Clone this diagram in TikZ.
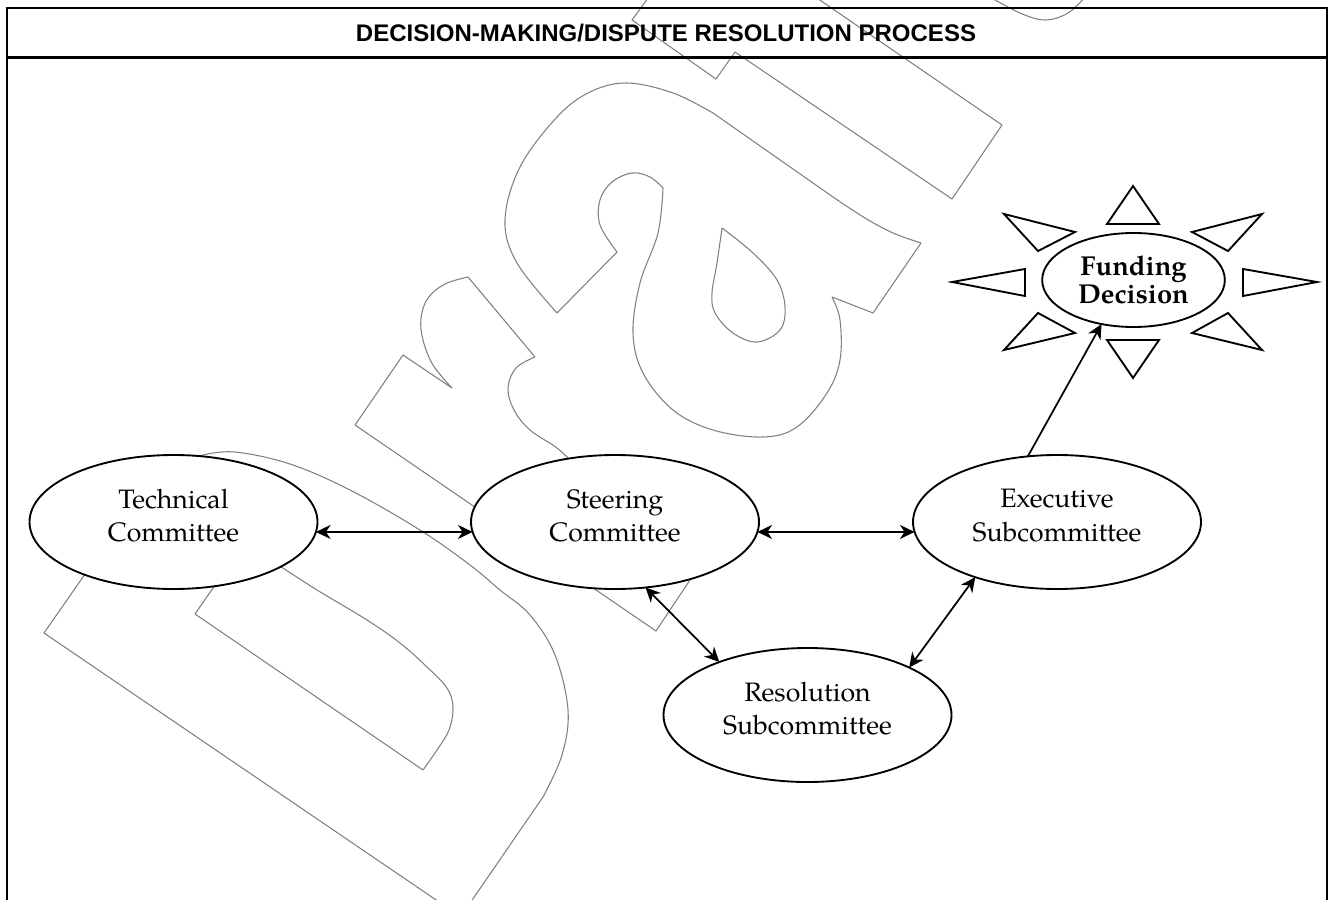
\documentclass[tikz,border=0pt]{standalone}
\usepackage{fontspec}
\usetikzlibrary{shapes.geometric,arrows.meta}
\newfontfamily\palfont{texgyrepagella}[Extension=.otf,UprightFont=*-regular,BoldFont=*-bold]
\newfontfamily\titlefont{Liberation Sans}
\begin{document}
\begin{tikzpicture}[x=0.75pt,y=-0.75pt,
  wm/.style={draw=black!50,line width=0.8pt,line join=round},
  ell/.style={ellipse,draw,fill=white,line width=1.4pt,inner sep=0pt,outer sep=0pt,align=center,
    font=\palfont\fontsize{20}{25}\selectfont,minimum width=216pt,minimum height=100.5pt,
    execute at end node={\rule[-10pt]{0pt}{10pt}}},
  fundell/.style={ellipse,draw,fill=white,line width=1.4pt,inner sep=0pt,outer sep=0pt,align=center,
    font=\palfont\bfseries\fontsize{20.5}{21}\selectfont,minimum width=137pt,minimum height=70.5pt},
  tri/.style={draw,line width=1.4pt,line join=miter},
  dbl/.style={line width=1.3pt,{Stealth[length=11pt,width=10.5pt,inset=3.5pt]}-{Stealth[length=11pt,width=10.5pt,inset=3.5pt]}},
  sgl/.style={line width=1.3pt,-{Stealth[length=11pt,width=10.5pt,inset=3.5pt]}},
  frame/.style={line width=2.2pt,line join=miter}]
\useasboundingbox (0,0) rectangle (1334,899);
% ---- watermark "Draft"
\begin{scope}
\clip (0,0) rectangle (1334,899);
% D outer
\draw[wm] (83,577) -- (44,633) -- (445,906);
\draw[wm] (83,577) -- (140,500) -- (203,455);
\draw[wm] plot[smooth,tension=0.6] coordinates {(203,455) (235,452) (290,464) (350,490) (420,530) (470,565) (500,590) (530,615) (555,655) (568,710) (562,755) (543,797)};
\draw[wm] (543,797) -- (468,906);
% D inner
\draw[wm] (213,588) -- (195,614) -- (423,770);
\draw[wm] plot[smooth,tension=0.6] coordinates {(423,770) (437,750) (449,730) (453,707) (447,688) (427,667) (400,643) (367,620) (317,590) (283,568)};
\draw[wm] (283,568) -- (250,555) -- (213,588);
% r
\draw[wm] (690,580) -- (656,631) -- (355,425) -- (403,355) -- (452,388);
\draw[wm] plot[smooth,tension=0.6] coordinates {(452,388) (433,365) (423,340) (421,318) (428,298) (445,284) (468,277)};
\draw[wm] (468,277) -- (535,357);
\draw[wm] plot[smooth,tension=0.6] coordinates {(535,357) (516,368) (508,388) (514,410) (530,430) (557,448) (575,465)};
\draw[wm] (575,465) -- (690,580);
% a
\draw[wm] plot[smooth,tension=0.6] coordinates {(713,113) (673,93) (627,83) (590,92) (557,117) (520,167) (505,220) (517,263) (557,313)};
\draw[wm] (557,313) -- (617,252);
\draw[wm] plot[smooth,tension=0.6] coordinates {(617,252) (600,225) (600,200) (612,182) (632,173) (650,177) (663,188)};
\draw[wm] plot[smooth,tension=0.6] coordinates {(663,188) (658,233) (640,283) (633,333) (643,373) (673,410) (713,430) (763,437) (797,427) (827,393) (840,360) (840,320) (832,297)};
\draw[wm] (832,297) -- (873,313) -- (921,243);
\draw[wm] plot[smooth,tension=0.6] coordinates {(921,243) (893,233) (865,218) (833,197)};
\draw[wm] (833,197) -- (713,113);
\draw[wm] plot[smooth,tension=0.6] coordinates {(722,228) (753,253) (777,280) (785,307) (780,330) (757,342) (733,333) (715,313) (712,293) (717,263) (722,228)};
% f
\draw[wm] (811,-6) -- (1002,125) -- (952,199) -- (735,52) -- (716,79) -- (632,20) -- (651,-6);
% t (foot, partly visible)
\draw[wm] plot[smooth,tension=0.6] coordinates {(988,-4) (1020,13) (1045,20) (1068,13) (1086,-4)};
\end{scope}
% ---- frame and title
\draw[frame] (7,905) -- (7,8) -- (1327,8) -- (1327,905);
\draw[frame] (7,57.5) -- (1327,57.5);
\node[font=\titlefont\bfseries\fontsize{18}{20}\selectfont,anchor=base,inner sep=0pt] (title) at (666,42) {DECISION-MAKING/DISPUTE RESOLUTION PROCESS};
% ---- nodes
\node[ell] (tech) at (173.5,522) {Technical\\Committee};
\node[ell] (steer) at (615,522) {Steering\\Committee};
\node[ell] (exec) at (1057,522) {Executive\\Subcommittee};
\node[ell] (res) at (807.5,715) {Resolution\\Subcommittee};
\node[fundell] (fund) at (1133.5,280) {Funding\\Decision};
% ---- connectors
\draw[dbl] (tech.-4.2) -- (steer.184.2);
\draw[dbl] (steer.-4.2) -- (exec.184);
\draw[dbl] (steer.-65.4) -- (res.149.8);
\draw[dbl] (exec.214.8) -- (res.25.8);
\draw[sgl] (exec.114.1) -- (fund.234.6);
% ---- sun rays
\draw[tri] (1133,186) -- (1107,224) -- (1159,224) -- cycle;
\draw[tri] (1107,340) -- (1159,340) -- (1133,378) -- cycle;
\draw[tri] (952,282) -- (1025,269) -- (1025,296) -- cycle;
\draw[tri] (1243,269) -- (1243,296) -- (1317,282) -- cycle;
\draw[tri] (1004,214) -- (1075,232) -- (1038,251) -- cycle;
\draw[tri] (1192,232) -- (1262,214) -- (1228,251) -- cycle;
\draw[tri] (1038,313) -- (1075,333) -- (1004,350) -- cycle;
\draw[tri] (1192,333) -- (1228,313) -- (1262,350) -- cycle;
\end{tikzpicture}
\end{document}
